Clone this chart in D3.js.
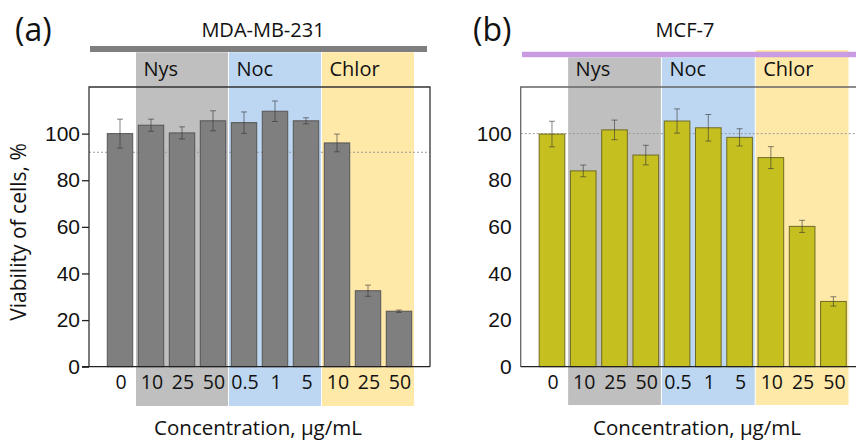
<!DOCTYPE html>
<html>
<head>
<meta charset="utf-8">
<script src="https://cdn.jsdelivr.net/npm/d3@7"></script>
<style>
  body { margin: 0; background: #fff; }
  svg { display: block; }
  text { font-family: "Open Sans", "Noto Sans", sans-serif; fill: #111; }
  .ytick text { font-family: "Liberation Sans", Arial, sans-serif; }
</style>
</head>
<body>
<div id="chart"></div>
<script>
// concentration labels (same for both cell lines)
const concLabels = ["0", "10", "25", "50", "0.5", "1", "5", "10", "25", "50"];

// drug groups: index of first and last bar
const groupNames = ["Nys", "Noc", "Chlor"];
const groupStart = [1, 4, 7];
const groupEnd = [3, 6, 9];
const groupColors = ["#bfbfbf", "#bdd7f2", "#ffe9a9"];

// MDA-MB-231 viability, %
const mdaValues = [100, 103.6, 100.3, 105.5, 104.7, 109.6, 105.5, 96, 32.6, 23.8];
const mdaErrors = [6.2, 2.6, 2.6, 4.3, 4.6, 4.4, 1.3, 3.8, 2.4, 0.5];
const mdaRef = 92;

// MCF-7 viability, %
const mcfValues = [99.8, 84, 101.6, 90.8, 105.4, 102.5, 98.4, 89.7, 60.2, 28];
const mcfErrors = [5.5, 2.5, 4.2, 4.2, 5.2, 5.7, 3.7, 4.7, 2.6, 2];
const mcfRef = 100;

const yTicks = [0, 20, 40, 60, 80, 100];

const W = 856, H = 440;
const svg = d3.select("#chart").append("svg")
  .attr("width", W)
  .attr("height", H);

function drawPanel(p) {
  const x = d3.scaleBand()
    .domain(d3.range(concLabels.length))
    .range([p.left, p.left + p.step * 11])
    .paddingInner(0.18)
    .paddingOuter(0.59);

  const y = d3.scaleLinear()
    .domain([0, 120])
    .range([366.7, 87]);

  const g = svg.append("g");
  const mid = (i) => x(i) + x.bandwidth() / 2;

  // shaded drug groups
  groupNames.forEach((name, k) => {
    const x0 = mid(groupStart[k]) - p.step / 2;
    const x1 = mid(groupEnd[k]) + p.step / 2;
    const top = (p.name == "b" && k == 2) ? 50 : p.bandTop;
    g.append("rect")
      .attr("x", x0 + 0.5)
      .attr("y", top)
      .attr("width", x1 - x0 - 1)
      .attr("height", p.bandBottom - top)
      .style("fill", groupColors[k]);

    g.append("text")
      .attr("x", x0 + 8)
      .attr("y", 76)
      .style("font-size", "20px")
      .text(name);
  });

  // coloured line over the panel
  g.append("line")
    .attr("x1", p.lineFrom)
    .attr("x2", p.lineTo)
    .attr("y1", p.lineY)
    .attr("y2", p.lineY)
    .style("stroke", p.lineColor)
    .style("stroke-width", p.lineW);

  // dotted reference line
  g.append("line")
    .attr("x1", p.left)
    .attr("x2", p.frameRight)
    .attr("y1", y(p.ref))
    .attr("y2", y(p.ref))
    .style("stroke", "#999")
    .style("stroke-width", 1)
    .style("stroke-dasharray", "2,2");

  // bars
  g.selectAll("rect.bar")
    .data(p.values)
    .enter()
    .append("rect")
    .attr("class", "bar")
    .attr("x", (d, i) => x(i))
    .attr("y", d => y(d))
    .attr("width", x.bandwidth())
    .attr("height", d => y(0) - y(d))
    .style("fill", p.barFill)
    .style("stroke", p.barStroke)
    .style("stroke-width", 1);

  // error bars
  const err = g.append("g")
    .style("stroke", "#333")
    .style("stroke-opacity", 0.6)
    .style("stroke-width", 1);
  p.values.forEach((v, i) => {
    const cx = mid(i), e = p.errors[i];
    err.append("line").attr("x1", cx).attr("x2", cx).attr("y1", y(v - e)).attr("y2", y(v + e));
    err.append("line").attr("x1", cx - 3).attr("x2", cx + 3).attr("y1", y(v - e)).attr("y2", y(v - e));
    err.append("line").attr("x1", cx - 3).attr("x2", cx + 3).attr("y1", y(v + e)).attr("y2", y(v + e));
  });

  // frame
  g.append("path")
    .attr("d", `M${p.left},${y(0)}V87H${p.frameRight}` + (p.frameRight < W ? `V${y(0)}` : ""))
    .style("fill", "none")
    .style("stroke", p.frameColor)
    .style("stroke-width", 1.3);

  // bottom axis line
  g.append("line")
    .attr("x1", p.left - p.tick)
    .attr("x2", Math.min(p.frameRight, W))
    .attr("y1", y(0))
    .attr("y2", y(0))
    .style("stroke", "#222")
    .style("stroke-width", 1.3);

  // y axis ticks
  const yAxis = d3.axisLeft(y)
    .tickValues(yTicks)
    .tickSize(p.tick)
    .tickPadding(p.tick > 0 ? 2 : 9);
  const ya = g.append("g")
    .attr("class", "ytick")
    .attr("transform", `translate(${p.left},0)`)
    .call(yAxis);
  ya.select(".domain").remove();
  ya.selectAll("line").style("stroke", "#222").style("stroke-width", 1.3);
  ya.selectAll("text").style("font-size", "21px").style("fill", "#111");

  // x tick labels
  g.selectAll("text.xl")
    .data(concLabels)
    .enter()
    .append("text")
    .attr("class", "xl")
    .attr("x", (d, i) => mid(i) + 1)
    .attr("y", 389)
    .attr("text-anchor", "middle")
    .style("font-size", "19.5px")
    .text(d => d);

  // x axis title
  g.append("text")
    .attr("x", p.xTitleX)
    .attr("y", 435)
    .attr("text-anchor", "middle")
    .style("font-size", "20.5px")
    .text("Concentration, μg/mL");

  // cell line title
  g.append("text")
    .attr("x", p.titleX)
    .attr("y", 37)
    .attr("text-anchor", "middle")
    .style("font-size", "20px")
    .text(p.title);

  // panel letter
  g.append("text")
    .attr("x", p.letterX)
    .attr("y", 41)
    .style("font-size", "32px")
    .text(`(${p.name})`);
}

drawPanel({
  name: "a", title: "MDA-MB-231", titleX: 263, letterX: 15,
  left: 89, step: 31, frameRight: 430, frameColor: "#333", tick: 7,
  values: mdaValues, errors: mdaErrors, ref: mdaRef,
  barFill: "#7f7f7f", barStroke: "#555",
  bandTop: 52.3, bandBottom: 406,
  lineFrom: 90, lineTo: 427, lineY: 49, lineW: 6, lineColor: "#7f7f7f",
  xTitleX: 258
});

drawPanel({
  name: "b", title: "MCF-7", titleX: 685, letterX: 473,
  left: 520.7, step: 31.27, frameRight: 866, frameColor: "#666", tick: 0,
  values: mcfValues, errors: mcfErrors, ref: mcfRef,
  barFill: "#c5bf1f", barStroke: "#6f6b25",
  bandTop: 57.3, bandBottom: 405,
  lineFrom: 522, lineTo: 856, lineY: 54.5, lineW: 5.6, lineColor: "#c99be2",
  xTitleX: 697
});

// y axis title
svg.append("text")
  .attr("transform", "translate(26,232) rotate(-90)")
  .attr("text-anchor", "middle")
  .style("font-size", "21px")
  .text("Viability of cells, %");
</script>
</body>
</html>
